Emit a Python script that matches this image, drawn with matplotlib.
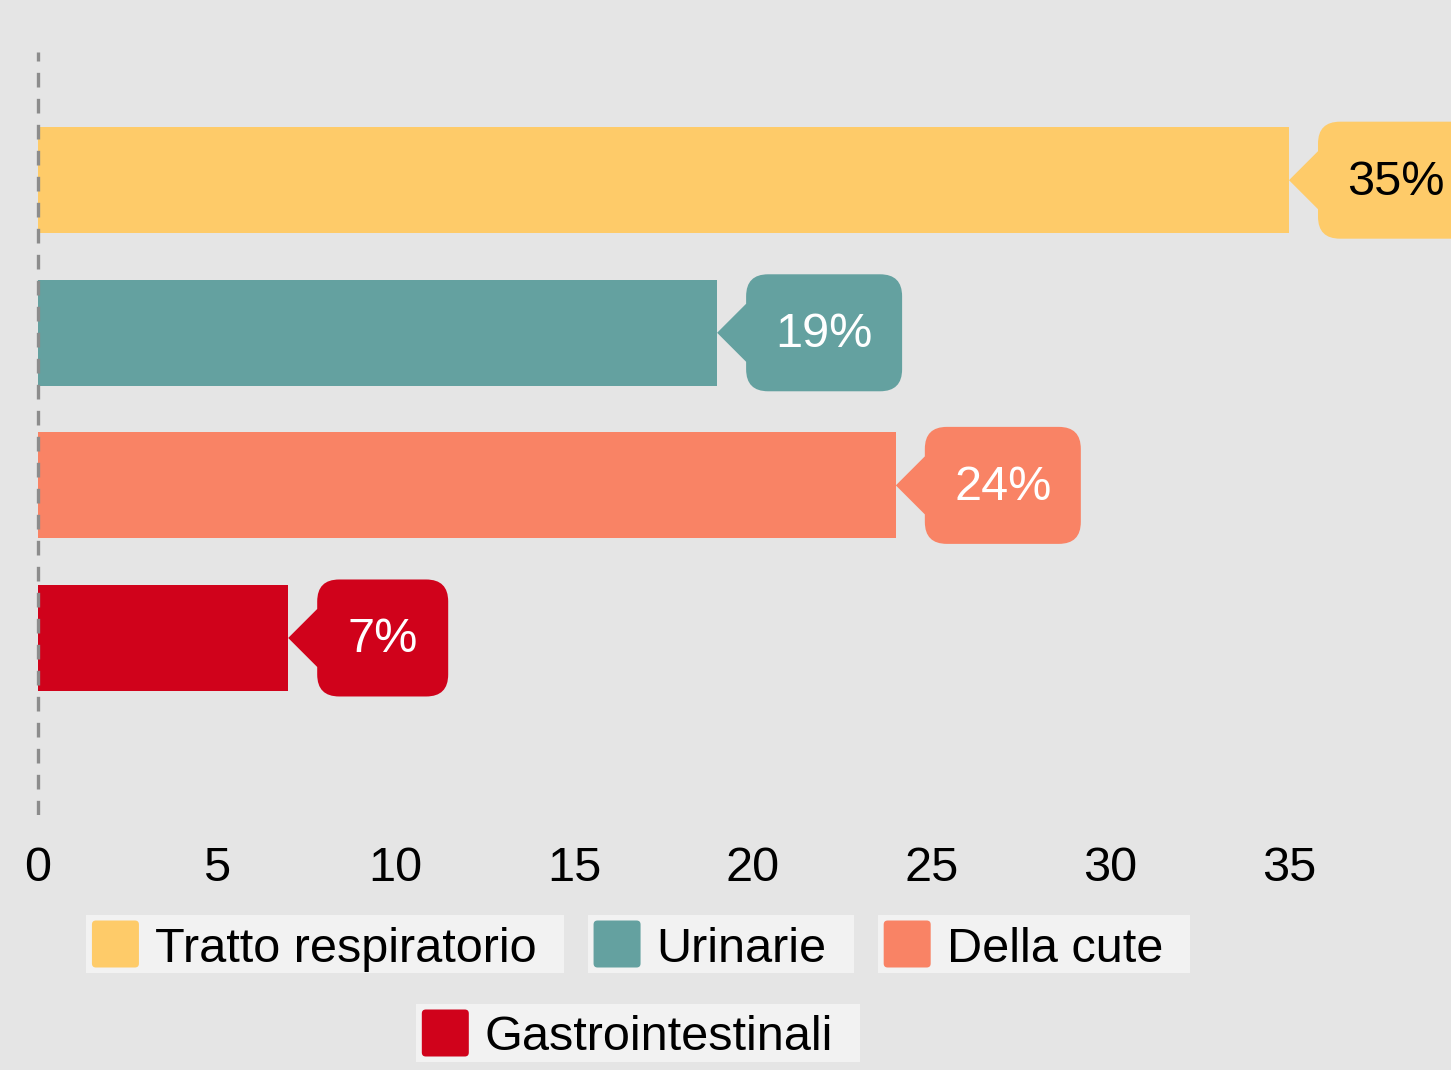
import matplotlib
matplotlib.use("Agg")
import matplotlib.pyplot as plt
from matplotlib.path import Path
from matplotlib.patches import PathPatch, FancyBboxPatch
from matplotlib.transforms import Affine2D, ScaledTranslation, IdentityTransform

plt.rcParams['font.family'] = ['Liberation Sans', 'DejaVu Sans']

categories = ['Tratto respiratorio', 'Urinarie', 'Della cute', 'Gastrointestinali']
values = [35, 19, 24, 7]
labels = ['35%', '19%', '24%', '7%']
colors = ['#FECB69', '#64A1A0', '#F98365', '#D0021B']
text_colors = ['black', 'white', 'white', 'white']
xticks = [0, 5, 10, 15, 20, 25, 30, 35]

bg = '#E5E5E5'
W, H = 1451, 1070
fs = 35
fig = plt.figure(figsize=(W / 100, H / 100), dpi=100, facecolor=bg)

# axes spans the full width; x=0 sits at pixel 38, x=35 at pixel 1289
ppu = (1289 - 38) / 35
x0 = -38 / ppu
x1 = (W - 38) / ppu
ax = fig.add_axes([0, (H - 815) / H, 1, (815 - 52) / H])
ax.set_facecolor(bg)
ax.set_xlim(x0, x1)
ax.set_ylim(4.16, -0.84)

ypos = list(range(len(values)))
ax.barh(ypos, values, height=0.694, color=colors, zorder=2)
ax.axvline(0, color='#8C8C8C', lw=2.4, linestyle=(0, (4.4, 3.4)), zorder=3)

ax.set_xticks(xticks)
ax.set_xticklabels([str(t) for t in xticks])
ax.set_yticks([])
ax.tick_params(axis='x', length=0, pad=22, labelsize=fs)
for s in ax.spines.values():
    s.set_visible(False)

# callout bubbles (drawn in pixels, anchored at the bar end)
g, h, r, p = 29, 58.5, 22, 29
for v, y, lab, c, tc in zip(values, ypos, labels, colors, text_colors):
    bw = 62 + 25 * (len(lab) - 1) + 44
    verts = [(g, p), (g, h - r), (g, h), (g + r, h), (g + bw - r, h), (g + bw, h), (g + bw, h - r),
             (g + bw, -h + r), (g + bw, -h), (g + bw - r, -h), (g + r, -h), (g, -h), (g, -h + r),
             (g, -p), (0, 0), (g, p)]
    codes = [Path.MOVETO, Path.LINETO, Path.CURVE3, Path.CURVE3, Path.LINETO, Path.CURVE3, Path.CURVE3,
             Path.LINETO, Path.CURVE3, Path.CURVE3, Path.LINETO, Path.CURVE3, Path.CURVE3,
             Path.LINETO, Path.LINETO, Path.CLOSEPOLY]
    tr = Affine2D() + ScaledTranslation(v, y, ax.transData)
    ax.add_patch(PathPatch(Path(verts, codes), facecolor=c, edgecolor='none', transform=tr,
                           clip_on=False, zorder=4))
    ax.text(g + bw / 2, -2, lab, transform=tr, ha='center', va='center', fontsize=fs,
            color=tc, zorder=5, clip_on=False)

# legend: separate light boxes per entry, two rows centred at x=638
renderer = fig.canvas.get_renderer()
rows = [[0, 1, 2], [3]]
row_y = [944, 1033]
cx = 638
for row, yc in zip(rows, row_y):
    widths = []
    texts = []
    for i in row:
        t = fig.text(0, 0, categories[i], fontsize=fs, ha='left', va='center', transform=IdentityTransform())
        tw = t.get_window_extent(renderer).width
        texts.append(t)
        widths.append(6 + 47 + 16 + tw + 27)
    total = sum(widths) + 24 * (len(row) - 1)
    xs = cx - total / 2
    yd = H - yc
    for i, t, w in zip(row, texts, widths):
        fig.patches.append(FancyBboxPatch((xs, yd - 29), w, 58, boxstyle='square,pad=0',
                                          facecolor='#F2F2F2', edgecolor='none',
                                          transform=IdentityTransform(), figure=fig))
        fig.patches.append(FancyBboxPatch((xs + 6 + 3, yd - 23.5 + 3), 41, 41,
                                          boxstyle='round,pad=3,rounding_size=4',
                                          facecolor=colors[i], edgecolor='none',
                                          transform=IdentityTransform(), figure=fig))
        t.set_position((xs + 6 + 47 + 16, yd - 5))
        t.set_zorder(3)
        xs += w + 24

fig.savefig('out.png', dpi=100, facecolor=bg)
